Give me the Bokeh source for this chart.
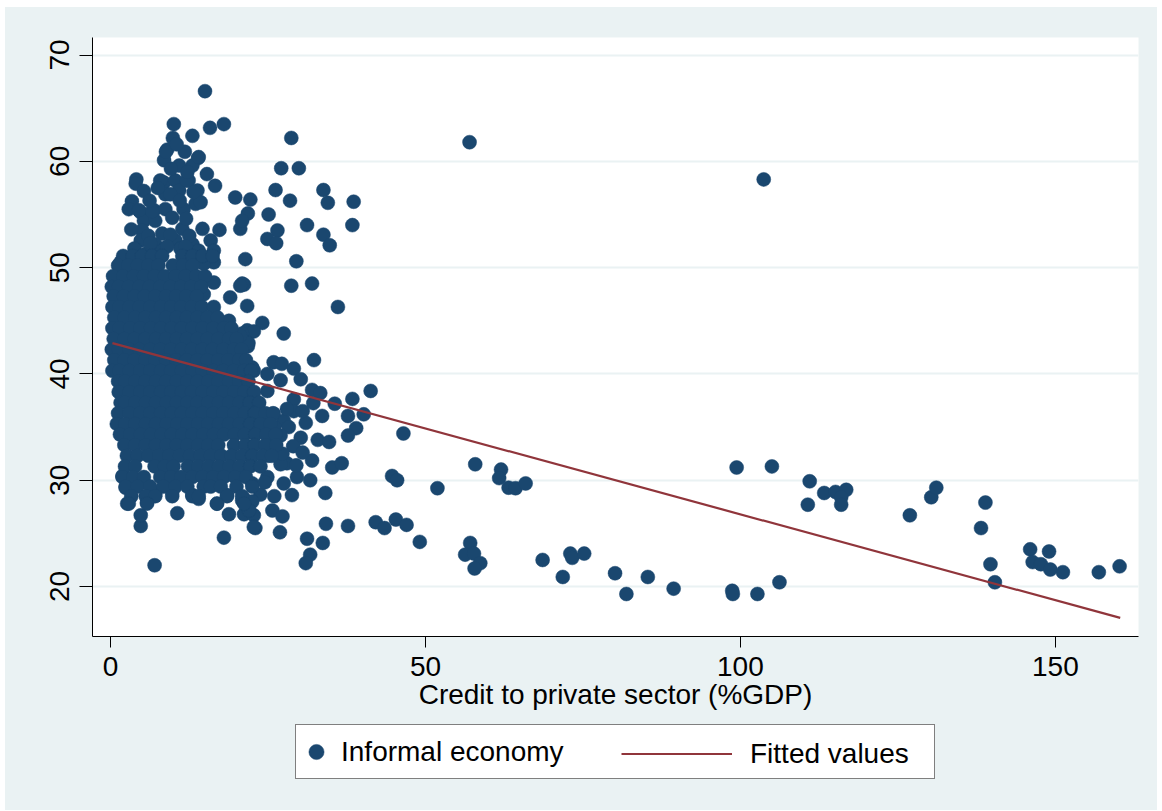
from bokeh.plotting import figure
from bokeh.layouts import column
from bokeh.models import FixedTicker, Legend, LegendItem, Range1d
from bokeh.embed import file_html
from bokeh.resources import INLINE

# ---------------- data ----------------
# (credit to private sector %GDP, informal economy %)
upper_cluster = [
    (15.0, 66.6), (10.05, 63.5), (15.8, 63.15), (18.0, 63.5), (13.0, 62.4), (9.9, 62.2),
    (9.0, 61.1), (11.8, 60.9), (13.9, 60.3), (8.5, 60.1), (10.9, 59.6), (13.0, 59.6),
    (15.3, 58.8), (4.1, 58.3), (4.0, 57.9), (16.6, 57.7), (5.3, 57.2), (8.5, 58.0),
    (10.3, 58.2), (12.4, 58.2), (13.8, 57.25), (8.7, 56.9), (10.9, 57.25), (19.8, 56.6),
    (3.4, 56.25), (2.9, 55.5), (4.8, 55.2), (6.9, 55.4), (8.7, 55.5), (11.6, 55.5),
    (13.5, 56.0), (20.6, 53.65), (5.3, 54.4), (7.1, 54.4), (9.8, 54.7), (11.4, 53.65),
    (14.6, 53.65), (17.3, 53.55), (5.0, 53.5), (8.2, 53.2), (4.8, 52.55), (7.1, 52.2),
    (10.3, 52.55), (13.0, 52.2), (15.9, 52.55), (16.4, 51.6), (14.0, 51.6), (11.1, 51.8),
    (8.2, 51.6), (5.6, 51.3), (1.6, 50.5), (6.0, 53.0), (9.5, 53.1), (12.5, 53.0),
    (3.8, 51.8), (2.5, 50.9), (14.3, 56.15), (7.9, 58.2), (13.2, 57.1), (9.5, 56.9),
    (6.6, 55.3), (4.5, 55.4), (12.1, 58.2), (8.8, 60.9), (14.0, 60.4),
    (6.2, 56.3), (11.0, 56.3), (7.5, 57.5), (12.0, 54.6), (3.3, 53.6), (6.3, 52.3),
    (9.0, 52.0), (11.9, 52.0), (10.5, 61.6), (12.2, 59.0), (9.6, 59.3),
]

mid_upper = [
    (28.7, 62.2), (27.1, 59.35), (29.9, 59.35), (26.2, 57.3), (33.8, 57.3), (22.2, 56.4),
    (28.5, 56.3), (34.5, 56.1), (38.6, 56.2), (21.8, 55.1), (25.1, 55.0), (20.9, 54.4),
    (31.2, 54.0), (38.4, 54.0), (26.5, 53.5), (24.9, 52.7), (26.3, 52.3), (33.8, 53.1),
    (34.8, 52.1), (21.4, 50.8), (29.5, 50.6), (21.2, 48.4), (28.7, 48.3), (32.0, 48.5),
    (21.7, 46.4), (36.1, 46.3), (24.1, 44.8), (21.7, 44.1), (22.75, 44.0), (27.5, 43.8),
    (21.8, 42.6),
]

mid_lower = [
    (32.3, 41.3), (22.75, 40.3), (25.9, 41.1), (27.2, 40.95), (29.1, 40.5), (30.2, 39.5),
    (24.9, 40.0), (27.0, 39.4), (24.9, 38.4), (41.3, 38.4), (32.0, 38.5), (33.3, 38.2),
    (29.1, 37.6), (32.2, 37.25), (35.6, 37.2), (38.4, 37.65), (23.5, 37.2), (40.2, 36.2),
    (37.7, 36.05), (33.6, 36.05), (29.1, 36.5), (31.0, 35.4), (27.5, 35.6), (25.9, 36.25),
    (39.0, 34.9), (46.5, 34.4), (37.7, 34.2), (32.9, 33.8), (34.7, 33.6), (25.9, 33.4),
    (23.8, 34.7), (32.0, 31.85), (35.2, 31.2), (36.7, 31.6), (28.0, 31.6), (27.0, 31.5),
    (44.7, 30.4), (45.5, 30.0), (51.9, 29.25), (29.6, 30.3), (31.7, 30.0), (27.5, 29.7),
    (24.9, 30.3), (34.1, 28.8), (28.8, 28.6), (23.8, 28.65), (21.2, 28.25), (25.7, 27.15),
    (27.3, 26.6), (21.2, 26.8), (22.75, 26.7), (23.0, 25.5), (26.9, 25.1), (34.2, 25.9),
    (37.7, 25.7), (42.1, 26.05), (43.5, 25.5), (45.3, 26.3), (47.0, 25.8), (49.1, 24.2),
    (31.2, 24.5), (33.7, 24.1), (31.7, 23.0), (31.0, 22.2),
    (28.3, 35.0), (30.2, 34.0), (29.0, 33.2), (27.0, 34.2), (26.0, 35.0), (28.0, 36.7),
    (30.5, 36.5), (27.3, 32.5), (25.0, 32.3), (24.5, 29.8), (26.0, 28.5), (22.5, 28.0),
    (29.5, 31.4), (30.5, 32.6),
]

high_credit = [
    (57.0, 61.8), (103.7, 58.3), (57.9, 31.5), (62.0, 31.0), (61.7, 30.2), (63.2, 29.3),
    (64.3, 29.25), (65.9, 29.7), (57.1, 24.1), (56.3, 23.0), (57.7, 23.1), (58.7, 22.2),
    (57.8, 21.7), (68.6, 22.5), (71.8, 20.9), (73.0, 23.1), (73.3, 22.7), (75.2, 23.1),
    (80.1, 21.25), (81.9, 19.3), (85.3, 20.9), (89.4, 19.8), (98.7, 19.6), (98.8, 19.3),
    (102.7, 19.3), (106.2, 20.4), (99.4, 31.2), (105.0, 31.3), (111.0, 29.9), (110.7, 27.7),
    (113.3, 28.8), (115.1, 28.9), (116.8, 29.1), (116.0, 28.4), (116.0, 27.7), (126.9, 26.7),
    (130.3, 28.4), (131.1, 29.3), (138.9, 27.9), (138.2, 25.5), (139.7, 22.1), (140.4, 20.4),
    (146.0, 23.5), (146.4, 22.3), (147.7, 22.1), (149.0, 23.3), (149.2, 21.6), (151.2, 21.35),
    (156.9, 21.35), (160.2, 21.9),
]

edge_points = [
    (7.0, 22.0), (4.8, 25.7), (2.65, 27.8), (4.8, 26.7), (10.6, 26.9), (18.0, 24.6),
    (18.8, 26.8), (16.9, 27.8), (5.8, 27.9), (7.1, 28.7), (9.8, 28.9), (13.0, 28.6),
    (14.0, 28.25), (15.9, 29.7), (18.5, 28.6), (20.9, 28.1), (19.8, 30.3), (1.9, 30.4),
    (2.4, 29.3), (22.5, 29.7), (22.0, 27.15), (22.75, 25.6),
    (14.8, 47.5), (14.6, 48.8), (16.4, 48.6), (20.9, 48.5), (19.0, 47.2), (18.8, 45.0),
    (20.9, 43.8), (21.9, 42.9), (22.5, 40.6), (19.8, 42.5), (20.6, 43.6), (16.4, 50.5),
    (14.8, 50.35), (12.7, 50.8), (20.6, 48.3),
]

# dense core: (informal economy value, credit values at that level)
core_rows = [
    (51.1, [2.0, 3.5, 5.0, 6.6, 8.2, 11.4, 13.0, 14.6, 16.2]),
    (50.2, [1.2, 2.8, 4.3, 6.0, 7.6, 9.9, 11.5, 13.0]),
    (49.2, [0.4, 2.0, 3.7, 5.3, 7.0, 8.6, 10.3, 11.9, 13.6, 15.0]),
    (48.2, [0.2, 1.3, 2.9, 4.6, 6.2, 7.9, 9.5, 11.2, 12.8, 14.4]),
    (47.3, [0.5, 2.1, 3.8, 5.4, 7.1, 8.8, 10.4, 12.0, 13.7]),
    (46.3, [0.3, 1.4, 3.0, 4.6, 6.3, 8.0, 9.6, 11.2, 12.9, 14.5, 16.4]),
    (45.3, [0.6, 2.2, 3.9, 5.5, 7.2, 8.8, 10.5, 12.1, 13.8, 15.4, 17.0]),
    (44.3, [0.3, 1.4, 3.1, 4.7, 6.4, 8.0, 9.7, 11.3, 13.0, 14.6, 16.3, 18.0, 19.2]),
    (43.3, [0.5, 2.2, 3.8, 5.5, 7.2, 8.8, 10.5, 12.1, 13.8, 15.4, 17.1, 18.8, 20.0]),
    (42.3, [0.2, 1.3, 3.0, 4.6, 6.3, 7.9, 9.6, 11.3, 12.9, 14.6, 16.2, 17.9, 19.6, 20.8]),
    (41.3, [0.6, 2.2, 3.8, 5.5, 7.1, 8.8, 10.4, 12.1, 13.8, 15.4, 17.1, 18.7, 20.4, 21.5]),
    (40.3, [0.3, 1.4, 3.0, 4.7, 6.3, 8.0, 9.6, 11.3, 13.0, 14.6, 16.3, 17.9, 19.6, 21.2, 22.3]),
    (39.3, [1.2, 2.3, 3.9, 5.5, 7.2, 8.8, 10.5, 12.2, 13.8, 15.5, 17.1, 18.8, 20.4, 21.9]),
    (38.3, [1.3, 3.0, 4.7, 6.3, 8.0, 9.6, 11.3, 12.9, 14.6, 16.3, 17.9, 19.6, 21.2, 22.8]),
    (37.3, [1.6, 2.3, 3.9, 5.6, 7.2, 8.9, 10.5, 12.2, 13.8, 15.5, 17.2, 18.8, 20.5, 22.1, 23.6]),
    (36.3, [1.2, 3.0, 4.7, 6.3, 8.0, 9.7, 11.3, 13.0, 14.6, 16.3, 17.9, 19.6, 21.3, 22.9, 24.6, 25.8]),
    (35.3, [1.0, 2.3, 3.9, 5.6, 7.2, 8.9, 10.6, 12.2, 13.9, 15.5, 17.2, 18.8, 20.5, 22.2, 23.8, 25.4]),
    (34.3, [1.5, 3.1, 4.8, 6.4, 8.1, 9.7, 11.4, 13.0, 14.7, 16.4, 18.0, 19.7, 21.3, 23.0, 24.7, 26.2]),
    (33.3, [2.2, 3.9, 5.6, 7.2, 8.9, 10.5, 12.2, 13.9, 15.5, 17.1, 19.6, 21.4, 22.9, 24.6, 26.3]),
    (32.3, [2.6, 4.3, 6.0, 7.7, 9.3, 11.0, 12.6, 14.3, 15.9, 17.6, 19.2, 20.9, 22.5, 24.2, 25.6]),
    (31.3, [2.3, 3.9, 7.0, 8.6, 10.0, 12.3, 13.9, 15.6, 17.2, 18.9, 20.5, 22.2, 23.8]),
    (30.3, [1.9, 3.6, 5.3, 7.9, 9.6, 11.2, 13.0, 14.6, 16.3, 18.0, 19.8, 21.5]),
    (29.4, [2.4, 4.3, 6.3, 8.4, 10.3, 12.2, 14.8, 15.9, 17.5, 20.0, 22.5]),
    (28.5, [3.3, 5.6, 7.1, 9.8, 13.0, 14.0, 18.5, 20.9]),
    (27.8, [2.9, 5.8, 16.9, 21.2]),
]

# fitted regression line (end points)
fit_credit = [0.3, 160.3]
fit_informal = [42.9, 17.05]

x_ticks = [0, 50, 100, 150]
y_ticks = [20, 30, 40, 50, 60, 70]
x_title = "Credit to private sector (%GDP)"
legend_labels = ["Informal economy", "Fitted values"]

# ---------------- assemble ----------------
pts = upper_cluster + mid_upper + mid_lower + high_credit + edge_points
for yv, xs in core_rows:
    pts += [(xv, yv) for xv in xs]
credit = [q[0] for q in pts]
informal = [q[1] for q in pts]

FONT = "Liberation Sans"
NAVY = "#1A476F"
MAROON = "#90353B"
BG = "#EAF2F3"

# ---------------- main chart ----------------
p = figure(width=1152, height=715,
           output_backend="svg", toolbar_location=None,
           x_range=Range1d(-2.86, 163.2), y_range=Range1d(15.3, 71.65),
           min_border_left=87, min_border_right=19, min_border_top=30,
           min_border_bottom=86)
p.border_fill_color = BG
p.background_fill_color = "white"
p.outline_line_color = None

sc = p.scatter(credit, informal, size=14, marker="circle",
               fill_color=NAVY, line_color=NAVY, line_width=0.5)
ln = p.line(fit_credit, fit_informal, line_color=MAROON, line_width=2.2)

p.xaxis.ticker = FixedTicker(ticks=x_ticks)
p.yaxis.ticker = FixedTicker(ticks=y_ticks)
for ax in (p.xaxis[0], p.yaxis[0]):
    ax.axis_line_color = "black"
    ax.axis_line_width = 1
    ax.major_tick_line_color = "black"
    ax.major_tick_line_width = 1
    ax.major_tick_in = 0
    ax.minor_tick_line_color = None
    ax.major_label_text_font = FONT
    ax.major_label_text_font_size = "28px"
    ax.major_label_text_color = "black"
p.xaxis.major_tick_out = 11
p.yaxis.major_tick_out = 13
p.xaxis.major_label_standoff = 9
p.yaxis.major_label_standoff = 10
p.yaxis.major_label_orientation = "vertical"
p.xaxis.axis_label = x_title
p.xaxis.axis_label_text_font = FONT
p.xaxis.axis_label_text_font_size = "28px"
p.xaxis.axis_label_text_font_style = "normal"
p.xaxis.axis_label_text_color = "black"
p.xaxis.axis_label_standoff = 0

p.xgrid.visible = False
p.ygrid.grid_line_color = BG
p.ygrid.grid_line_width = 2

# ---------------- legend strip ----------------
# same series drawn again in a strip whose ranges hide them; only the keys show
lg = figure(width=1152, height=88, output_backend="svg", toolbar_location=None,
            x_range=Range1d(0, 1), y_range=Range1d(0, 1),
            x_axis_type=None, y_axis_type=None,
            min_border_left=0, min_border_right=0, min_border_top=0,
            min_border_bottom=0)
lg.border_fill_color = BG
lg.background_fill_color = BG
lg.outline_line_color = None
lg.grid.visible = False
sc_key = lg.scatter(credit, informal, size=14, marker="circle",
                    fill_color=NAVY, line_color=NAVY, line_width=0.5)
ln_key = lg.line(fit_credit, fit_informal, line_color=MAROON, line_width=2.2)

leg1 = Legend(items=[LegendItem(label=legend_labels[0], renderers=[sc_key])],
              location=(203, 31), orientation="horizontal",
              glyph_width=38, glyph_height=51, padding=1, margin=0, spacing=0,
              label_standoff=6, label_width=592,
              label_text_font=FONT, label_text_font_size="28px",
              label_text_color="black",
              border_line_color="black", border_line_width=1,
              background_fill_color="white", background_fill_alpha=1)
leg2 = Legend(items=[LegendItem(label=legend_labels[1], renderers=[ln_key])],
              location=(529, 31), orientation="horizontal",
              glyph_width=111, glyph_height=51, padding=1, margin=0, spacing=0,
              label_standoff=18,
              label_text_font=FONT, label_text_font_size="28px",
              label_text_color="black",
              border_line_color=None, background_fill_alpha=0)
lg.add_layout(leg1, "center")
lg.add_layout(leg2, "center")

layout = column(p, lg, spacing=0, margin=(7, 0, 0, 5),
                styles={"background-color": BG})
open("out.html", "w").write(file_html(layout, INLINE))
